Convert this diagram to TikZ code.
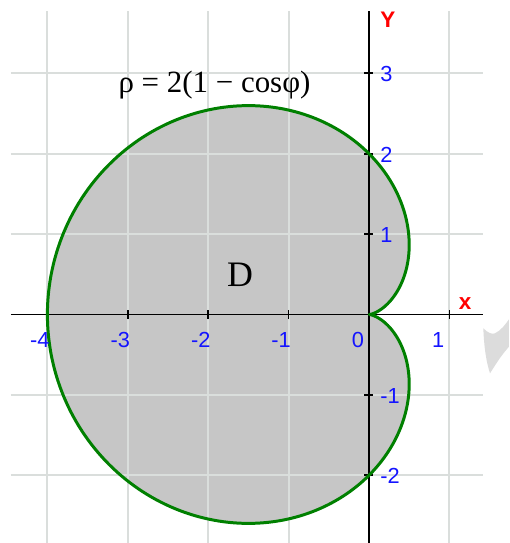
\documentclass[tikz,border=0pt]{standalone}
\usepackage{fontspec}
\setmainfont{Liberation Serif}
\newfontfamily\labelfont{Liberation Sans}
\definecolor{fillgrey}{RGB}{198,198,198}
\definecolor{gridgrey}{RGB}{218,222,220}
\definecolor{curvegreen}{RGB}{0,128,0}
\definecolor{wmgrey}{RGB}{220,220,220}
\definecolor{labblue}{RGB}{20,20,255}
\tikzset{
  gridline/.style={draw=gridgrey, line width=1.1pt},
  axisline/.style={draw=black, line width=1.0pt},
  curveline/.style={draw=curvegreen, line width=1.7pt, line join=round},
  numlab/.style={inner sep=0pt, text=labblue, font=\labelfont\fontsize{12.4}{14}\selectfont},
  axlab/.style={inner sep=0pt, text=red, font=\labelfont\bfseries\fontsize{12.8}{15}\selectfont},
}
\begin{document}
\begin{tikzpicture}[x=1.608cm,y=1.608cm]
\useasboundingbox (-4.5896,-2.8420) rectangle (1.7413,3.9117);
\fill[white] (-4.5896,-2.8420) rectangle (1.7413,3.9117);
% watermark fragment
\fill[wmgrey] (1.422,-0.172) .. controls (1.48,-0.23) and (1.53,-0.25) .. (1.567,-0.234)
  .. controls (1.64,-0.20) and (1.70,-0.12) .. (1.741,-0.060) -- (1.741,-0.400)
  .. controls (1.64,-0.52) .. (1.505,-0.731)
  .. controls (1.46,-0.60) and (1.43,-0.40) .. (1.422,-0.172) -- cycle;
% region D
\fill[fillgrey] plot[domain=0:360, samples=361] ({2*(1-cos(\x))*cos(\x)}, {2*(1-cos(\x))*sin(\x)}) -- cycle;
% grid
\foreach \i in {-4,-3,-2,-1,1} \draw[gridline] (\i,-2.86) -- (\i,3.775);
\foreach \j in {-2,-1,1,2,3} \draw[gridline] (-4.453,\j) -- (1.418,\j);
% axes
\coordinate (xl) at (-4.453,0);
\coordinate (xr) at (1.418,0);
\coordinate (yb) at (0,-2.86);
\coordinate (yt) at (0,3.775);
\draw[axisline] (xl) -- (xr);
\draw[axisline] (yb) -- (yt);
\foreach \i in {-4,-3,-2,-1,1} \draw[axisline] (\i,-0.05) -- (\i,0.05);
\foreach \j in {-2,-1,1,2,3} \draw[axisline] (-0.06,\j) -- (0.05,\j);
% curve
\draw[curveline] plot[domain=0:360, samples=361] ({2*(1-cos(\x))*cos(\x)}, {2*(1-cos(\x))*sin(\x)}) -- cycle;
% labels
\foreach \i in {-4,-3,-2,-1,0,1} \node[numlab, anchor=north west] (xlab\i) at (\i-0.218,-0.218) {\i};
\foreach \j in {-2,-1,1,2,3} \node[numlab, anchor=west] (ylab\j) at (0.137,\j-0.012) {\j};
\node[axlab] (Ylab) at (0.236,3.663) {Y};
\node[axlab] (Xlab) at (1.194,0.131) {x};
\node[inner sep=0pt, anchor=base, font=\fontsize{17.6}{20}\selectfont] (title) at (-1.922,2.767) {ρ = 2(1 − cosφ)};
\node[inner sep=0pt, font=\fontsize{20.4}{24}\selectfont] (D) at (-1.604,0.491) {D};
\end{tikzpicture}
\end{document}
